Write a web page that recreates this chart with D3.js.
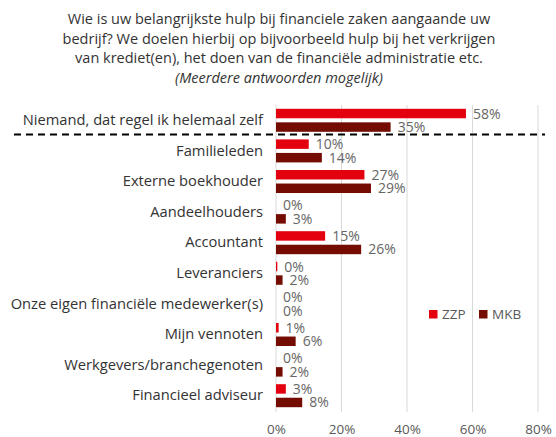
<!DOCTYPE html>
<html>
<head>
<meta charset="utf-8">
<script src="https://cdn.jsdelivr.net/npm/d3@7"></script>
<style>
  body { margin: 0; background: #fff; }
  svg { display: block; font-family: "Open Sans", sans-serif; }
</style>
</head>
<body>
<svg width="556" height="437"></svg>
<script>
const categories = ["Niemand, dat regel ik helemaal zelf", "Familieleden", "Externe boekhouder",
	"Aandeelhouders", "Accountant", "Leveranciers", "Onze eigen financiële medewerker(s)",
	"Mijn vennoten", "Werkgevers/branchegenoten", "Financieel adviseur"];
const zzp = [58, 10, 27, 0, 15, 0.4, 0, 0.8, 0, 3];
const mkb = [35, 14, 29, 3, 26, 2, 0, 6, 2, 8];
const seriesNames = ["ZZP", "MKB"];
const xTicks = [0, 20, 40, 60, 80];
const titleLines = ["Wie is uw belangrijkste hulp bij financiele zaken aangaande uw",
	"bedrijf? We doelen hierbij op bijvoorbeeld hulp bij het verkrijgen",
	"van krediet(en), het doen van de financiële administratie etc."];
const subtitle = "(Meerdere antwoorden mogelijk)";

const colors = ["#e3000f", "#740c02"];

let svg = d3.select("svg");

// titel
svg.append("g").selectAll("text")
	.data(titleLines.concat([subtitle]))
	.enter().append("text")
	.attr("x", 279)
	.attr("y", (d, i) => 24 + i * 19.5)
	.attr("text-anchor", "middle")
	.style("font-size", "14.5px")
	.style("font-style", (d, i) => i == 3 ? "italic" : "normal")
	.attr("fill", "#333")
	.text(d => d);

let x = d3.scaleLinear().domain([0, 80]).range([276, 538]);
let y = d3.scaleBand().domain(categories).range([105, 411]);
let inner = d3.scaleBand().domain(seriesNames).range([3.8, y.bandwidth() - 3.8]).paddingInner(0.3);

// gridlines
svg.append("g").selectAll("line")
	.data(xTicks)
	.enter().append("line")
	.attr("x1", d => x(d)).attr("x2", d => x(d))
	.attr("y1", 105).attr("y2", 412)
	.attr("stroke", "#d9d9d9");

// x-as labels
let xAxis = svg.append("g")
	.attr("transform", "translate(0,412)")
	.call(d3.axisBottom(x).tickValues(xTicks).tickFormat(d => d + "%").tickSize(0).tickPadding(12));
xAxis.select(".domain").remove();
xAxis.selectAll("text").attr("fill", "#595959").style("font-size", "13.5px").style("font-family", "Open Sans");

// categorie labels
let yAxis = svg.append("g")
	.attr("transform", "translate(263,0)")
	.call(d3.axisLeft(y).tickSize(0).tickPadding(0));
yAxis.select(".domain").remove();
yAxis.selectAll("text").attr("fill", "#333").style("font-size", "14.7px").style("font-family", "Open Sans");

let rows = categories.map((c, i) => ({ cat: c, vals: [zzp[i], mkb[i]] }));

let group = svg.append("g").selectAll("g")
	.data(rows)
	.enter().append("g")
	.attr("transform", d => "translate(0," + y(d.cat) + ")");

let bars = group.selectAll("g")
	.data(d => d.vals.map((v, j) => ({ name: seriesNames[j], v: v, j: j })))
	.enter().append("g");

bars.append("rect")
	.attr("x", x(0))
	.attr("y", d => inner(d.name))
	.attr("width", d => x(d.v) - x(0))
	.attr("height", inner.bandwidth())
	.attr("fill", d => colors[d.j]);

bars.append("text")
	.attr("x", d => x(d.v) + 7)
	.attr("y", d => inner(d.name) + inner.bandwidth() / 2)
	.attr("dy", "0.36em")
	.attr("fill", "#666")
	.style("font-size", "14px")
	.text(d => Math.round(d.v) + "%");

// stippellijn onder eerste rij
svg.append("line")
	.attr("x1", 14).attr("x2", 545)
	.attr("y1", 134.5).attr("y2", 134.5)
	.attr("stroke", "#000")
	.attr("stroke-width", 1.8)
	.attr("stroke-dasharray", "7,5");

// legenda
let legend = svg.append("g").selectAll("g")
	.data(seriesNames)
	.enter().append("g")
	.attr("transform", (d, i) => "translate(" + (429 + i * 50) + ",310)");
legend.append("rect")
	.attr("width", 8.5).attr("height", 8.5)
	.attr("fill", (d, i) => colors[i]);
legend.append("text")
	.attr("x", 13).attr("y", 4.5)
	.attr("dy", "0.36em")
	.attr("fill", "#595959")
	.style("font-size", "13.5px")
	.text(d => d);
</script>
</body>
</html>
